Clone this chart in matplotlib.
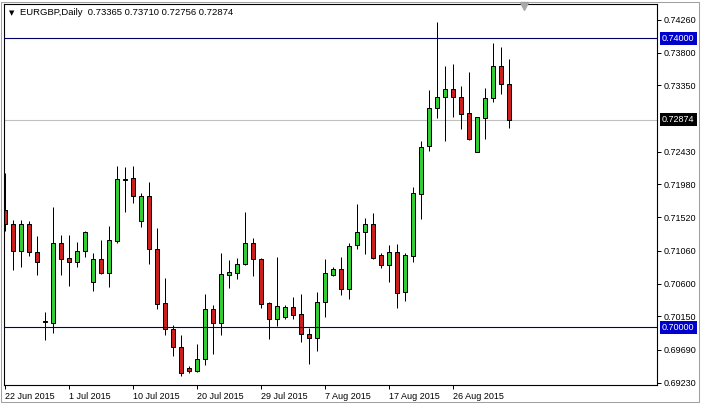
import matplotlib
matplotlib.use('Agg')
import matplotlib.pyplot as plt
from matplotlib.transforms import blended_transform_factory
from matplotlib.patches import Rectangle

symbol = 'EURGBP,Daily'
opens = [0.71623, 0.71430, 0.71052, 0.71430, 0.71038, 0.70083, 0.70064, 0.71163,
         0.70955, 0.70900, 0.71052, 0.70623, 0.70945, 0.70756, 0.71194, 0.72045,
         0.72062, 0.71475, 0.71817, 0.71080, 0.70332, 0.69972, 0.69731, 0.69437,
         0.69399, 0.69557, 0.70249, 0.70055, 0.70728, 0.70747, 0.70872, 0.71163,
         0.70945, 0.70332, 0.70119, 0.70147, 0.70277, 0.70180, 0.69903, 0.69848,
         0.70346, 0.70728, 0.70803, 0.70526, 0.71135, 0.71315, 0.71430, 0.71001,
         0.70858, 0.71042, 0.70484, 0.70991, 0.71849, 0.72513, 0.73031, 0.73188,
         0.73298, 0.73188, 0.72962, 0.72430, 0.72901, 0.73170, 0.73617, 0.73365]
highs = [0.72136, 0.71485, 0.71485, 0.71471, 0.71264, 0.70216, 0.71669, 0.71278,
         0.71278, 0.71185, 0.71326, 0.71024, 0.71208, 0.71402, 0.72233, 0.72223,
         0.72233, 0.71855, 0.72011, 0.71370, 0.70678, 0.70032, 0.69893, 0.69464,
         0.69769, 0.70461, 0.70309, 0.71024, 0.70932, 0.70955, 0.71600, 0.71232,
         0.70959, 0.70354, 0.70969, 0.70305, 0.70415, 0.70461, 0.69994, 0.70484,
         0.70945, 0.70839, 0.70969, 0.71171, 0.71707, 0.71509, 0.71578, 0.71033,
         0.71135, 0.71157, 0.71028, 0.71938, 0.72579, 0.73284, 0.74221, 0.73621,
         0.73644, 0.73344, 0.73529, 0.72911, 0.73308, 0.73931, 0.73884, 0.73710]
lows = [0.71333, 0.70793, 0.70839, 0.70991, 0.70724, 0.69824, 0.69925, 0.70724,
        0.70572, 0.70839, 0.70977, 0.70507, 0.70734, 0.70562, 0.71171, 0.71600,
        0.71725, 0.71384, 0.70872, 0.70253, 0.69898, 0.69603, 0.69326, 0.69372,
        0.69381, 0.69474, 0.69630, 0.69889, 0.70540, 0.70664, 0.70858, 0.70714,
        0.70267, 0.69842, 0.70022, 0.70119, 0.70111, 0.69797, 0.69496, 0.69676,
        0.70147, 0.70710, 0.70447, 0.70388, 0.71080, 0.71014, 0.70949, 0.70817,
        0.70631, 0.70263, 0.70364, 0.70908, 0.71499, 0.72444, 0.72893, 0.72579,
        0.72915, 0.72745, 0.72588, 0.72430, 0.72606, 0.73122, 0.73225, 0.72756]
closes = [0.71430, 0.71052, 0.71430, 0.71038, 0.70900, 0.70080, 0.71163, 0.70949,
          0.70900, 0.71052, 0.71315, 0.70945, 0.70756, 0.71208, 0.72048, 0.72050,
          0.71821, 0.71817, 0.71080, 0.70322, 0.69972, 0.69731, 0.69372, 0.69399,
          0.69557, 0.70249, 0.70064, 0.70734, 0.70761, 0.70872, 0.71163, 0.70949,
          0.70322, 0.70111, 0.70295, 0.70277, 0.70174, 0.69903, 0.69848, 0.70346,
          0.70747, 0.70803, 0.70526, 0.71121, 0.71315, 0.71430, 0.70963, 0.70858,
          0.71042, 0.70479, 0.71001, 0.71855, 0.72500, 0.73031, 0.73188, 0.73298,
          0.73188, 0.72956, 0.72606, 0.72911, 0.73170, 0.73617, 0.73365, 0.72874]

date_labels = ['22 Jun 2015', '1 Jul 2015', '10 Jul 2015', '20 Jul 2015',
               '29 Jul 2015', '7 Aug 2015', '17 Aug 2015', '26 Aug 2015']
date_label_bars = [0, 8, 16, 24, 32, 40, 48, 56]
price_ticks = [0.74260, 0.73800, 0.73350, 0.72430, 0.71980, 0.71520,
               0.71060, 0.70600, 0.70150, 0.69690, 0.69230]
price_tick_labels = ['0.74260', '0.73800', '0.73350', '0.72430', '0.71980', '0.71520',
                     '0.71060', '0.70600', '0.70150', '0.69690', '0.69230']
level_lines = [0.74000, 0.70000]
level_labels = ['0.74000', '0.70000']
last_price = 0.72874
last_label = '0.72874'

FONT = 'Liberation Sans'
FS = 6.5
UP = '#32CD32'
DOWN = '#CD1E1E'

W, H = 701, 405
fig = plt.figure(figsize=(W / 100, H / 100), dpi=100)
fig.patch.set_facecolor('white')
ax = fig.add_axes([4 / W, 20 / H, 653 / W, 381 / H])
ax.set_facecolor('white')

# candles
xs = list(range(len(opens)))
ax.vlines(xs, lows, highs, colors='black', linewidth=0.72, zorder=2)
bottoms = [min(o, c) for o, c in zip(opens, closes)]
heights = [abs(c - o) for o, c in zip(opens, closes)]
colors = [UP if c >= o else DOWN for o, c in zip(opens, closes)]
ax.bar(xs, heights, bottom=bottoms, width=0.5, color=colors,
       edgecolor='black', linewidth=0.72, zorder=2.5)

# horizontal levels
for lv in level_lines:
    ax.axhline(lv, color='#000066', linewidth=0.8, zorder=3)
ax.axhline(last_price, color='#C0C0C0', linewidth=0.8, zorder=1)

ax.set_xlim(-0.125, 81.5)
ax.set_ylim(0.692014, 0.744747)

ax.yaxis.tick_right()
ax.set_yticks(price_ticks)
ax.set_yticklabels(price_tick_labels, fontsize=FS, family=FONT)
ax.set_xticks(date_label_bars)
ax.set_xticklabels(date_labels, fontsize=FS, family=FONT)
for lbl in ax.get_xticklabels():
    lbl.set_horizontalalignment('left')
ax.tick_params(axis='y', direction='out', length=3, width=0.72, pad=2, colors='black')
ax.tick_params(axis='x', direction='out', length=3, width=0.72, pad=2, colors='black')
for s in ax.spines.values():
    s.set_color('black')
    s.set_linewidth(0.8)

tr = blended_transform_factory(ax.transAxes, ax.transData)
xl = (662 - 4) / 653
for lv, lab in zip(level_lines, level_labels):
    ax.text(xl, lv, lab, transform=tr, ha='left', va='center', color='white',
            fontsize=FS, family=FONT, clip_on=False,
            bbox=dict(boxstyle='square,pad=0.25', fc='#0000CC', ec='none'))
ax.text(xl, last_price, last_label, transform=tr, ha='left', va='center', color='white',
        fontsize=FS, family=FONT, clip_on=False,
        bbox=dict(boxstyle='square,pad=0.25', fc='black', ec='none'))

# header
ax.text((11.5 - 4) / 653, (385 - 13) / 381, '\u25BC', transform=ax.transAxes,
        ha='center', va='center', fontsize=5, family='DejaVu Sans')
header = symbol + '  ' + ' '.join('%.5f' % v for v in
                                  (opens[-1], highs[-1], lows[-1], closes[-1]))
ax.text((20 - 4) / 653, (385 - 12.7) / 381, header, transform=ax.transAxes,
        ha='left', va='center', fontsize=6.8, family=FONT)

# chart shift marker
ax.plot([(524 - 4) / 653], [(385 - 6) / 381], marker='v', markersize=6,
        color='#A8A8A8', transform=ax.transAxes, clip_on=False, zorder=5)

fig.patches.append(Rectangle((1 / W, 3 / H), 698 / W, 400 / H, transform=fig.transFigure,
                             fill=False, edgecolor='#A0A0A0', linewidth=0.75))

fig.savefig('out.png', dpi=100)
